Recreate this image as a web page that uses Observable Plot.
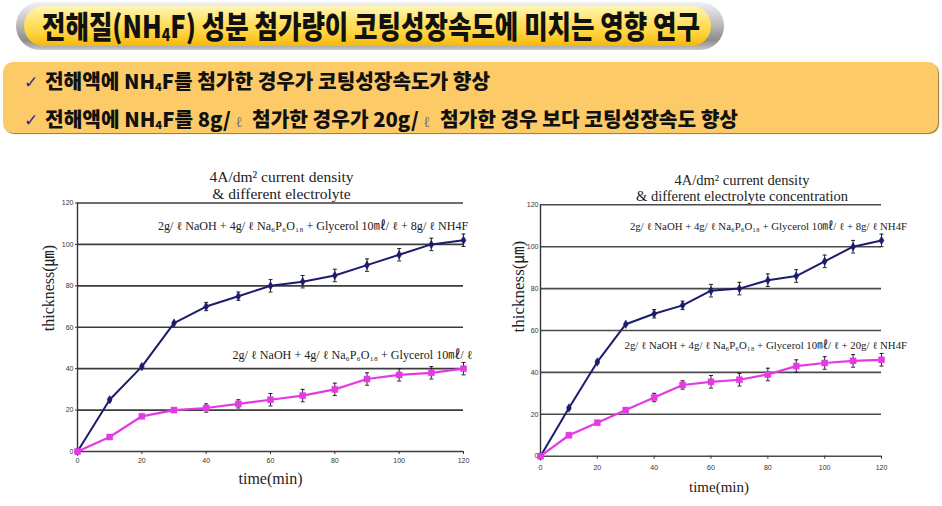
<!DOCTYPE html>
<html>
<head>
<meta charset="utf-8">
<script src="https://cdn.jsdelivr.net/npm/d3@7"></script>
<script src="https://cdn.jsdelivr.net/npm/@observablehq/plot@0.6"></script>
<style>
  html, body { margin: 0; padding: 0; background: #fff; }
  #page { position: relative; width: 942px; height: 506px; overflow: hidden; background: #fff; }
  .pill-outer { position: absolute; left: 16px; top: 2px; width: 708px; height: 48px; border-radius: 24px;
    background: linear-gradient(to bottom, #f2f2f2 0%, #bdbdbd 45%, #8c8c8c 80%, #c8c8c8 100%); }
  .pill-inner { position: absolute; left: 24px; top: 6px; width: 687px; height: 40px; border-radius: 20px;
    background: linear-gradient(to bottom, #fff6b8 0%, #ffe46e 35%, #ffd23a 70%, #f6b70c 100%); }
  #title { position: absolute; left: 42px; top: 6px; white-space: nowrap; font-family: "Noto Sans CJK KR", sans-serif;
    font-weight: 900; font-size: 31px; line-height: 38px; color: #111; transform-origin: left center; }
  #title sub { font-size: 17px; vertical-align: -3px; }
  .box { position: absolute; left: 3px; top: 62px; width: 935px; height: 71px; border-radius: 10px; background: #fdca68;
    box-shadow: 1px 1px 1px #9c7434; }
  .bullet { position: absolute; left: 24px; white-space: nowrap; font-family: "Noto Sans CJK KR", sans-serif; height: 24px; line-height: 24px; }
  .bullet .chk { color: #3a1e96; font-size: 17px; font-family: "DejaVu Sans", sans-serif; vertical-align: top; }
  .bullet .txt { position: absolute; left: 21px; top: -1px; font-weight: 900; font-size: 20px; color: #111; transform-origin: left center; }
  .bullet .txt sub { font-size: 11px; vertical-align: -2px; }
  .bullet .txt .l { font-weight: 300; color: #777; font-size: 15px; font-family: "DejaVu Serif", serif; }
  .chart { position: absolute; top: 160px; }
</style>
</head>
<body>
<div id="page">
  <div class="pill-outer"></div>
  <div class="pill-inner"></div>
  <div id="title"></div>
  <div class="box"></div>
  <div class="bullet" style="top:70px"><span class="chk">✓</span><span class="txt" id="b1"></span></div>
  <div class="bullet" style="top:108px"><span class="chk">✓</span><span class="txt" id="b2"></span></div>
  <div class="chart" id="leftChart" style="left:0px"></div>
  <div class="chart" id="rightChart" style="left:480px"></div>
</div>
<script>
// ---- texts ----
const headerTitle = "전해질(NH<sub>4</sub>F) 성분 첨가량이 코팅성장속도에 미치는 영향 연구";
const bullet1 = "전해액에 NH<sub>4</sub>F를 첨가한 경우가 코팅성장속도가 향상";
const bullet2 = "전해액에 NH<sub>4</sub>F를 8g/ <span class='l'>ℓ</span>&nbsp; 첨가한 경우가 20g/ <span class='l'>ℓ</span>&nbsp; 첨가한 경우 보다 코팅성장속도 향상";
const leftTitle = "4A/dm² current density\n& different electrolyte";
const rightTitle = "4A/dm² current density\n& different electrolyte concentration";
const xLabel = "time(min)";
const yLabel = "thickness(㎛)";

// ---- data ----
const minutes = [0, 10, 20, 30, 40, 50, 60, 70, 80, 90, 100, 110, 120];
const xTicks = [0, 20, 40, 60, 80, 100, 120];
const yTicks = [0, 20, 40, 60, 80, 100, 120];

// left chart: different electrolyte
const leftWithNH4F    = [0, 25, 41, 62, 70, 75, 80, 82, 85, 90, 95, 100, 102];
const leftWithNH4FErr = [0, 0.8, 0.8, 0, 2, 2, 3, 3, 3, 3, 3, 3, 3];
const leftBase        = [0, 7, 17, 20, 21, 23, 25, 27, 30, 35, 37, 38, 40];
const leftBaseErr     = [0, 0, 0, 0, 2, 2, 3, 3, 3, 3, 3, 3, 3];

// right chart: different NH4F concentration
const right8g     = [0, 23, 45, 63, 68, 72, 79, 80, 84, 86, 93, 100, 103];
const right8gErr  = [0, 0.8, 0.8, 0, 2, 2, 3, 3, 3, 3, 3, 3, 3];
const right20g    = [0, 10, 16, 22, 28, 34, 35.5, 36.5, 39, 43, 44.5, 45.5, 46];
const right20gErr = [0, 1, 1, 1, 2, 2, 3, 3, 3, 3, 3, 3, 3];

const leftNotes = [
  {t: 121.5, v: 108.6, text: "2g/ ℓ NaOH + 4g/ ℓ Na₆P₆O₁₈ + Glycerol 10㎖/ ℓ + 8g/ ℓ NH4F"},
  {t: 122.8, v: 46.4,  text: "2g/ ℓ NaOH + 4g/ ℓ Na₆P₆O₁₈ + Glycerol 10㎖/ ℓ"}
];
const rightNotes = [
  {t: 129, v: 109.8, text: "2g/ ℓ NaOH + 4g/ ℓ Na₆P₆O₁₈ + Glycerol 10㎖/ ℓ + 8g/ ℓ NH4F"},
  {t: 129, v: 52.8,  text: "2g/ ℓ NaOH + 4g/ ℓ Na₆P₆O₁₈ + Glycerol 10㎖/ ℓ + 20g/ ℓ NH4F"}
];

const navy = "#1c1c6c";
const magenta = "#e43ae4";

// ---- header ----
document.getElementById("title").innerHTML = headerTitle;
document.getElementById("b1").innerHTML = bullet1;
document.getElementById("b2").innerHTML = bullet2;
function fitWidth(el, w) {
  const r = el.getBoundingClientRect().width;
  el.style.transform = `scaleX(${w / r})`;
}
fitWidth(document.getElementById("title"), 658);
fitWidth(document.getElementById("b1"), 445);
fitWidth(document.getElementById("b2"), 693);

// ---- charts ----
const rows = (vals, errs) => minutes.map((t, i) => ({t, v: vals[i], e: errs[i]}));
const capSymbol = {
  draw(context, size) {
    const r = Math.sqrt(size / Math.PI);
    context.moveTo(-r, 0);
    context.lineTo(r, 0);
  }
};
const serif = "'Liberation Serif', 'DejaVu Serif', 'Noto Sans CJK KR', serif";

function seriesMarks(data, color, sym, r, sw) {
  const withErr = data.filter(d => d.e > 0);
  return [
    Plot.line(data, {x: "t", y: "v", stroke: color, strokeWidth: sw}),
    Plot.ruleX(withErr, {x: "t", y1: d => d.v - d.e, y2: d => d.v + d.e, stroke: "#222", strokeWidth: 1}),
    Plot.dot(withErr, {x: "t", y: d => d.v - d.e, symbol: capSymbol, r: 2, stroke: "#222", strokeWidth: 1}),
    Plot.dot(withErr, {x: "t", y: d => d.v + d.e, symbol: capSymbol, r: 2, stroke: "#222", strokeWidth: 1}),
    Plot.dot(data, {x: "t", y: "v", symbol: sym, r: r, fill: color, stroke: color, strokeWidth: 0.5})
  ];
}

function makeChart(cfg) {
  return Plot.plot({
    width: cfg.width, height: 346,
    marginLeft: cfg.ml, marginRight: cfg.mr, marginTop: cfg.mt, marginBottom: cfg.mb,
    x: {domain: [0, 120]},
    y: {domain: [0, 120]},
    style: {background: "transparent", overflow: "visible"},
    marks: [
      Plot.ruleY(yTicks, {stroke: cfg.grid, strokeWidth: 1.6}),
      Plot.ruleX([0], {stroke: "#333", strokeWidth: 1.4}),
      Plot.axisY({ticks: yTicks, tickSize: cfg.yTick, tickPadding: 2, fontSize: 7, label: null, stroke: cfg.grid, color: "#333", fontFamily: "Liberation Sans Narrow, Liberation Sans, sans-serif"}),
      Plot.axisX({ticks: xTicks, tickSize: 3, tickPadding: cfg.xPad, fontSize: 7, label: null, color: "#333", fontFamily: "Liberation Sans Narrow, Liberation Sans, sans-serif"}),
      ...seriesMarks(cfg.top, navy, "diamond", 2.6, 2),
      ...seriesMarks(cfg.bottom, magenta, "square", 3.4, 2.2),
      Plot.text(cfg.notes, {x: "t", y: "v", text: "text", textAnchor: "end", lineAnchor: "middle", fontSize: cfg.noteSize, fill: "#222", fontFamily: serif}),
      Plot.text([cfg.title], {frameAnchor: "top", text: d => d, dx: cfg.titleDx, dy: cfg.titleDy, lineAnchor: "bottom", lineHeight: 1.08, fontSize: cfg.titleSize, fill: "#222", fontFamily: serif}),
      Plot.text([xLabel], {frameAnchor: "bottom", text: d => d, dx: cfg.xlDx, dy: cfg.xlDy, lineAnchor: "middle", fontSize: cfg.xlSize, fill: "#222", fontFamily: serif}),
      Plot.text([yLabel], {frameAnchor: "left", text: d => d, dx: cfg.ylDx, dy: cfg.ylDy, rotate: -90, lineAnchor: "middle", fontSize: cfg.ylSize, fill: "#222", fontFamily: serif, letterSpacing: "1.5px"})
    ]
  });
}

document.getElementById("leftChart").append(makeChart({
  width: 480, ml: 77, mr: 17, mt: 42.5, mb: 55,
  grid: "#3c3c3c", yTick: 2, xPad: 4,
  top: rows(leftWithNH4F, leftWithNH4FErr),
  bottom: rows(leftBase, leftBaseErr),
  notes: leftNotes, noteSize: 12.1,
  title: leftTitle, titleDx: 11, titleDy: -4, titleSize: 15.5,
  xlDx: 0, xlDy: 27, xlSize: 16,
  ylDx: -29, ylDy: 4, ylSize: 16
}));

document.getElementById("rightChart").append(makeChart({
  width: 462, ml: 60, mr: 61, mt: 44.3, mb: 50.3,
  grid: "#4a4a4a", yTick: 0, xPad: 6,
  top: rows(right8g, right8gErr),
  bottom: rows(right20g, right20gErr),
  notes: rightNotes, noteSize: 10.8,
  title: rightTitle, titleDx: 31, titleDy: -4, titleSize: 14.5,
  xlDx: 8, xlDy: 31, xlSize: 15,
  ylDx: -22, ylDy: 2, ylSize: 17
}));
</script>
</body>
</html>
